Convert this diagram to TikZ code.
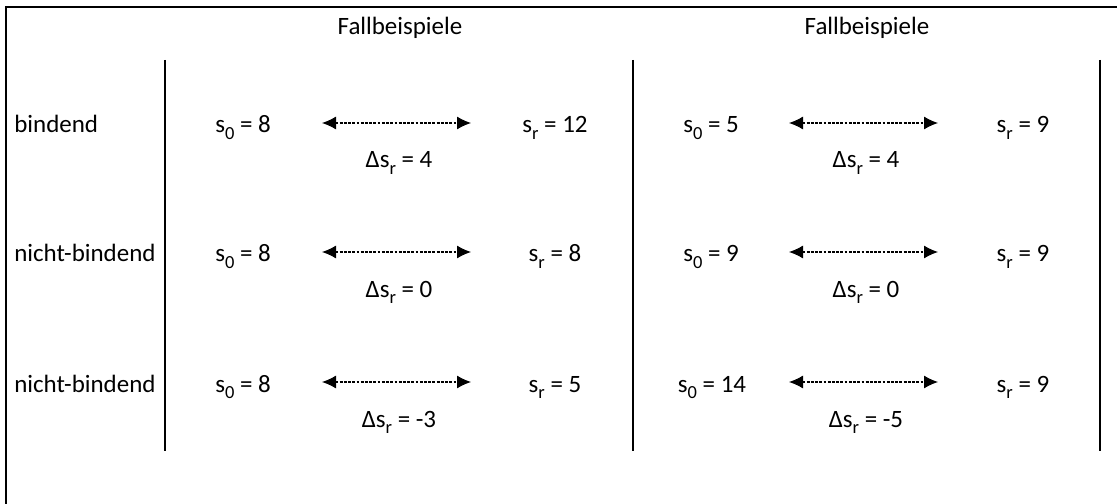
\documentclass[tikz,border=0pt]{standalone}
\usepackage{fontspec}
\setmainfont{Carlito}
\usetikzlibrary{arrows.meta}

\newcommand{\tief}[1]{\raisebox{-0.28em}{\fontsize{10.5}{11}\selectfont #1}}

\tikzset{
	txt/.style={anchor=base, inner sep=0pt, font=\fontsize{14.2}{17}\selectfont},
	zeile/.style={txt, anchor=base west},
	pfeil/.style={{Latex[length=2.8mm,width=2.6mm]}-{Latex[length=2.8mm,width=2.6mm]}, dash pattern=on 1.6pt off 0.8pt, line width=0.6pt},
	trenn/.style={line width=1pt}
}

\begin{document}
\begin{tikzpicture}
		\useasboundingbox (0,0) rectangle (22.34,-10.08);
		%draw frame
		\draw [line width=1.3pt] (22.34,-0.14) -- (0.12,-0.14) -- (0.12,-10.08);
		%draw separators
		\draw [trenn] (3.30,-1.20) -- (3.30,-9.02);
		\draw [trenn] (12.66,-1.20) -- (12.66,-9.02);
		\draw [trenn] (22.00,-1.20) -- (22.00,-9.02);
		%draw headings
		\node[txt] (head1) at (8.00,-0.70) {Fallbeispiele};
		\node[txt] (head2) at (17.34,-0.70) {Fallbeispiele};
		%draw row labels
		\node[zeile] (lbl1) at (0.28,-2.66) {bindend};
		\node[zeile] (lbl2) at (0.28,-5.24) {nicht-bindend};
		\node[zeile] (lbl3) at (0.28,-7.84) {nicht-bindend};
		%first example, left block
		\node[txt] (sa1) at (4.86,-2.66) {s\tief{0} = 8};
		\node[txt] (sb1) at (11.10,-2.66) {s\tief{r} = 12};
		\node[txt] (d1) at (7.98,-3.36) {Δs\tief{r} = 4};
		\coordinate (pa1) at (6.44,-2.46);
		\coordinate (pb1) at (9.42,-2.46);
		\draw [pfeil] (pa1) -- (pb1);
		\node[txt] (sa2) at (4.86,-5.24) {s\tief{0} = 8};
		\node[txt] (sb2) at (11.10,-5.24) {s\tief{r} = 8};
		\node[txt] (d2) at (7.98,-5.94) {Δs\tief{r} = 0};
		\coordinate (pa2) at (6.44,-5.04);
		\coordinate (pb2) at (9.42,-5.04);
		\draw [pfeil] (pa2) -- (pb2);
		\node[txt] (sa3) at (4.86,-7.84) {s\tief{0} = 8};
		\node[txt] (sb3) at (11.10,-7.84) {s\tief{r} = 5};
		\node[txt] (d3) at (7.98,-8.54) {Δs\tief{r} = -3};
		\coordinate (pa3) at (6.44,-7.64);
		\coordinate (pb3) at (9.42,-7.64);
		\draw [pfeil] (pa3) -- (pb3);
		%second example, right block
		\node[txt] (sc1) at (14.22,-2.66) {s\tief{0} = 5};
		\node[txt] (sd1) at (20.46,-2.66) {s\tief{r} = 9};
		\node[txt] (e1) at (17.32,-3.36) {Δs\tief{r} = 4};
		\coordinate (pc1) at (15.78,-2.46);
		\coordinate (pd1) at (18.76,-2.46);
		\draw [pfeil] (pc1) -- (pd1);
		\node[txt] (sc2) at (14.22,-5.24) {s\tief{0} = 9};
		\node[txt] (sd2) at (20.46,-5.24) {s\tief{r} = 9};
		\node[txt] (e2) at (17.32,-5.94) {Δs\tief{r} = 0};
		\coordinate (pc2) at (15.78,-5.04);
		\coordinate (pd2) at (18.76,-5.04);
		\draw [pfeil] (pc2) -- (pd2);
		\node[txt] (sc3) at (14.24,-7.84) {s\tief{0} = 14};
		\node[txt] (sd3) at (20.46,-7.84) {s\tief{r} = 9};
		\node[txt] (e3) at (17.32,-8.54) {Δs\tief{r} = -5};
		\coordinate (pc3) at (15.78,-7.64);
		\coordinate (pd3) at (18.76,-7.64);
		\draw [pfeil] (pc3) -- (pd3);
		
	\end{tikzpicture}
\end{document}
